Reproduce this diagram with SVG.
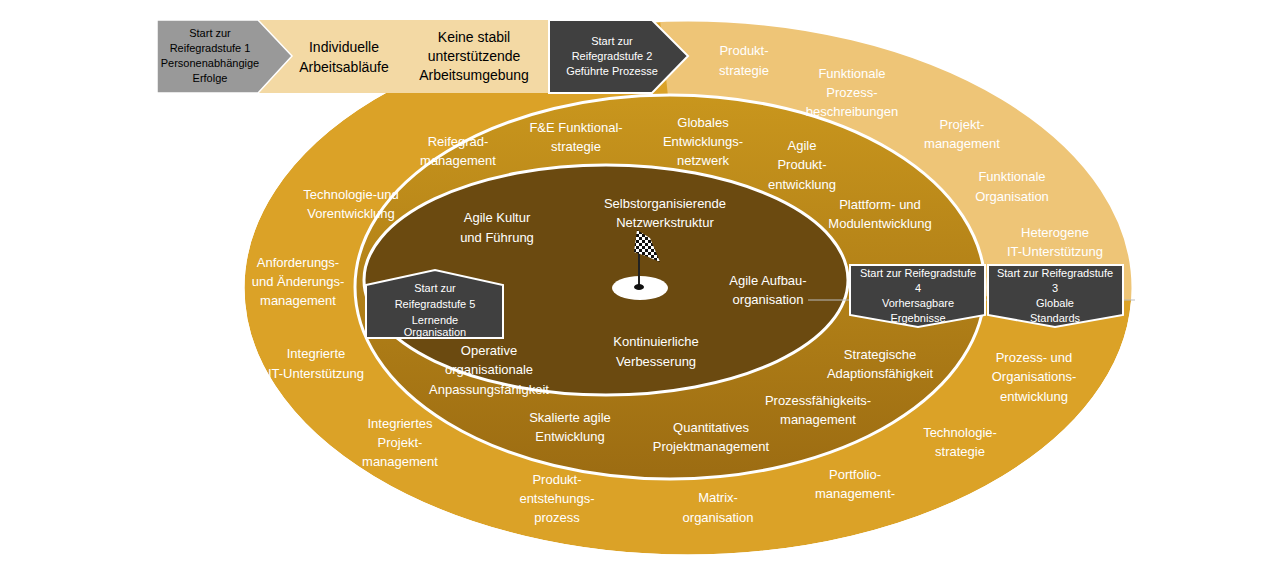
<svg xmlns="http://www.w3.org/2000/svg" width="1280" height="569" viewBox="0 0 1280 569">
<style>
text{font-family:"Liberation Sans",Arial,sans-serif;font-size:13px;fill:#fff;text-anchor:middle}
.b{fill:#000;font-size:14px}
.s{font-size:11px}
.box{fill:#404040;stroke:#fff;stroke-width:2}
</style>
<defs>
<linearGradient id="mg" x1="0" y1="0" x2="0" y2="1"><stop offset="0" stop-color="#C9961D"/><stop offset="1" stop-color="#9C6C12"/></linearGradient>
<pattern id="chk" width="6" height="6" patternUnits="userSpaceOnUse"><rect width="6" height="6" fill="#fff"/><rect width="3" height="3" fill="#111"/><rect x="3" y="3" width="3" height="3" fill="#111"/></pattern>
</defs>
<g id="rings">
<ellipse cx="688" cy="288" rx="445" ry="268" fill="#DBA227" stroke="#fff" stroke-width="3"/>
<path d="M688 288 L660 20 A445 268 0 0 1 1133 300 Z" fill="#EEC577"/>
<ellipse cx="688" cy="288" rx="445" ry="268" fill="none" stroke="#fff" stroke-width="3"/>
<ellipse cx="670" cy="287" rx="315" ry="192" fill="url(#mg)" stroke="#fff" stroke-width="3"/>
<ellipse cx="606" cy="280" rx="242" ry="115" fill="#6B4A10" stroke="#fff" stroke-width="3"/>
</g>
<g id="connectors"><line x1="808" y1="300" x2="1135" y2="300" stroke="#bbb" stroke-width="1"/></g>
<g id="flag">
<ellipse cx="640" cy="288" rx="28" ry="12" fill="#fff"/>
<line x1="639" y1="232" x2="639" y2="286" stroke="#222" stroke-width="2"/>
<ellipse cx="639" cy="287" rx="5" ry="3" fill="#111"/>
<polygon points="637,230 650,238 660,262 646,256 634,252" fill="url(#chk)"/>
</g>
<g id="banner">
<rect x="157" y="20" width="400" height="73" fill="#F3D9A4"/>
<polygon points="157,20 258,20 292,56 258,93 157,93" fill="#999" stroke="#fff" stroke-width="1.5"/>
<polygon points="549,20 652,20 688,56 652,93 549,93" class="box"/>
<text class="b s" x="210" y="37">Start zur</text><text class="b s" x="210" y="52">Reifegradstufe 1</text><text class="b s" x="210" y="67">Personenabhängige</text><text class="b s" x="210" y="82">Erfolge</text>
<text class="b" x="344" y="52">Individuelle</text><text class="b" x="344" y="72">Arbeitsabläufe</text>
<text class="b" x="474" y="42">Keine stabil</text><text class="b" x="474" y="61">unterstützende</text><text class="b" x="474" y="80">Arbeitsumgebung</text>
<text class="s" x="612" y="45">Start zur</text><text class="s" x="612" y="60">Reifegradstufe 2</text><text class="s" x="612" y="75">Geführte Prozesse</text>
</g>
<g id="stage5"><polygon points="366,285 435,270 503,285 503,338 366,338" class="box"/>
<text class="s" x="435" y="292">Start zur</text><text class="s" x="435" y="308">Reifegradstufe 5</text><text class="s" x="435" y="324">Lernende</text><text class="s" x="435" y="336">Organisation</text></g>
<g id="stage4"><polygon points="850,265 985,265 985,315 918,327 850,315" class="box"/>
<text class="s" x="918" y="277">Start zur Reifegradstufe</text><text class="s" x="918" y="292">4</text><text class="s" x="918" y="307">Vorhersagbare</text><text class="s" x="918" y="322">Ergebnisse</text></g>
<g id="stage3"><polygon points="988,265 1123,265 1123,315 1055,327 988,315" class="box"/>
<text class="s" x="1055" y="277">Start zur Reifegradstufe</text><text class="s" x="1055" y="292">3</text><text class="s" x="1055" y="307">Globale</text><text class="s" x="1055" y="322">Standards</text></g>
<g id="outer-labels">
<text x="744" y="55">Produkt-</text><text x="744" y="75">strategie</text>
<text x="852" y="78">Funktionale</text><text x="852" y="97">Prozess-</text><text x="852" y="116">beschreibungen</text>
<text x="962" y="129">Projekt-</text><text x="962" y="148">management</text>
<text x="1012" y="181">Funktionale</text><text x="1012" y="201">Organisation</text>
<text x="1055" y="237">Heterogene</text><text x="1055" y="256">IT-Unterstützung</text>
<text x="1034" y="362">Prozess- und</text><text x="1034" y="381">Organisations-</text><text x="1034" y="401">entwicklung</text>
<text x="960" y="437">Technologie-</text><text x="960" y="456">strategie</text>
<text x="855" y="479">Portfolio-</text><text x="855" y="498">management-</text>
<text x="718" y="502">Matrix-</text><text x="718" y="522">organisation</text>
<text x="557" y="484">Produkt-</text><text x="557" y="503">entstehungs-</text><text x="557" y="522">prozess</text>
<text x="400" y="428">Integriertes</text><text x="400" y="447">Projekt-</text><text x="400" y="466">management</text>
<text x="316" y="358">Integrierte</text><text x="316" y="378">IT-Unterstützung</text>
<text x="298" y="267">Anforderungs-</text><text x="298" y="286">und Änderungs-</text><text x="298" y="305">management</text>
<text x="351" y="199">Technologie-und</text><text x="351" y="218">Vorentwicklung</text>
</g>
<g id="middle-labels">
<text x="458" y="146">Reifegrad-</text><text x="458" y="165">management</text>
<text x="576" y="132">F&amp;E Funktional-</text><text x="576" y="151">strategie</text>
<text x="703" y="127">Globales</text><text x="703" y="146">Entwicklungs-</text><text x="703" y="165">netzwerk</text>
<text x="802" y="150">Agile</text><text x="802" y="169">Produkt-</text><text x="802" y="189">entwicklung</text>
<text x="880" y="209">Plattform- und</text><text x="880" y="228">Modulentwicklung</text>
<text x="880" y="359">Strategische</text><text x="880" y="378">Adaptionsfähigkeit</text>
<text x="818" y="405">Prozessfähigkeits-</text><text x="818" y="424">management</text>
<text x="711" y="432">Quantitatives</text><text x="711" y="451">Projektmanagement</text>
<text x="570" y="422">Skalierte agile</text><text x="570" y="441">Entwicklung</text>
<text x="489" y="355">Operative</text><text x="489" y="374">organisationale</text><text x="489" y="394">Anpassungsfähigkeit</text>
</g>
<g id="inner-labels">
<text x="665" y="208">Selbstorganisierende</text><text x="665" y="227">Netzwerkstruktur</text>
<text x="497" y="222">Agile Kultur</text><text x="497" y="242">und Führung</text>
<text x="768" y="285">Agile Aufbau-</text><text x="768" y="304">organisation</text>
<text x="656" y="346">Kontinuierliche</text><text x="656" y="366">Verbesserung</text>
</g>
</svg>
